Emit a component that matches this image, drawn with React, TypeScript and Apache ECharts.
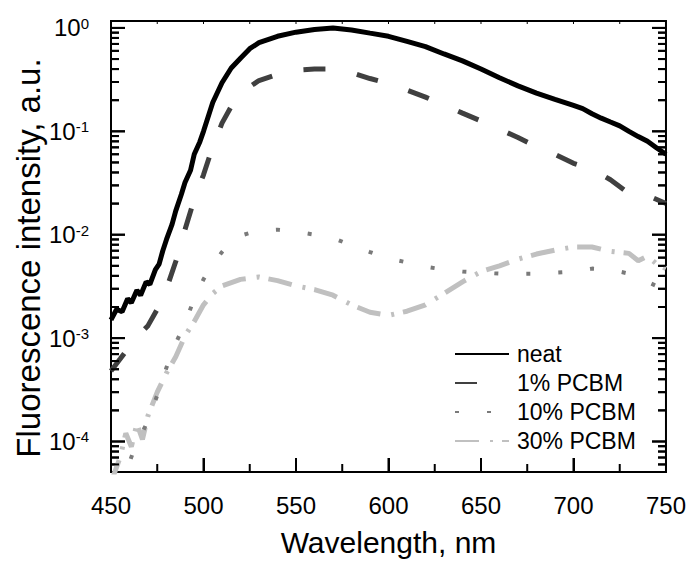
import { useEffect, useRef } from "react";
import * as echarts from "echarts";

// ---- data (wavelength in nm, intensity in a.u.) ----
const seriesNames = ["neat", "1% PCBM", "10% PCBM", "30% PCBM"];

const neatWavelength = [450, 453, 456, 459, 461, 464, 466, 469, 471, 474, 476, 478, 480, 483, 485, 488, 490, 493, 495, 498, 500, 505, 510, 515, 520, 525, 530, 540, 550, 560, 570, 580, 590, 600, 610, 620, 630, 640, 650, 660, 670, 680, 690, 700, 705, 710, 715, 720, 725, 730, 735, 740, 745, 750];
const neatIntensity = [1.5e-3, 1.9e-3, 1.8e-3, 2.4e-3, 2.2e-3, 2.9e-3, 2.6e-3, 3.5e-3, 3.3e-3, 4.6e-3, 5.2e-3, 7.0e-3, 9.0e-3, 1.26e-2, 1.7e-2, 2.45e-2, 3.2e-2, 4.2e-2, 6.0e-2, 7.9e-2, 0.1, 0.19, 0.295, 0.41, 0.51, 0.63, 0.72, 0.83, 0.91, 0.965, 1.0, 0.955, 0.89, 0.83, 0.74, 0.66, 0.56, 0.48, 0.4, 0.33, 0.275, 0.234, 0.204, 0.178, 0.166, 0.148, 0.134, 0.123, 0.113, 0.1, 0.089, 0.08, 0.069, 0.06];

const pcbm1Wavelength = [450, 455, 460, 465, 470, 475, 480, 485, 490, 495, 500, 505, 510, 515, 520, 525, 530, 540, 550, 560, 570, 580, 590, 600, 610, 620, 630, 640, 650, 660, 670, 680, 690, 700, 710, 720, 730, 740, 750];
const pcbm1Intensity = [4.8e-4, 6.3e-4, 8.3e-4, 1.07e-3, 1.32e-3, 1.9e-3, 3.0e-3, 5.5e-3, 1.12e-2, 2.2e-2, 3.8e-2, 7.1e-2, 0.12, 0.174, 0.224, 0.27, 0.31, 0.355, 0.39, 0.4, 0.4, 0.37, 0.324, 0.29, 0.25, 0.214, 0.18, 0.15, 0.126, 0.105, 0.087, 0.071, 0.06, 0.049, 0.043, 0.034, 0.025, 0.024, 0.02];

const pcbm10Wavelength = [450, 455, 460, 463, 466, 470, 475, 480, 485, 490, 495, 500, 505, 510, 515, 520, 530, 540, 550, 560, 570, 580, 590, 600, 610, 620, 630, 640, 650, 660, 670, 680, 690, 700, 710, 720, 730, 740, 750];
const pcbm10Intensity = [4.0e-5, 5.6e-5, 6.3e-5, 8.9e-5, 1.12e-4, 1.6e-4, 2.8e-4, 5.2e-4, 8.9e-4, 1.4e-3, 2.4e-3, 3.7e-3, 5.2e-3, 6.8e-3, 8.5e-3, 9.8e-3, 1.1e-2, 1.12e-2, 1.07e-2, 1.0e-2, 9.3e-3, 7.9e-3, 6.8e-3, 5.9e-3, 5.4e-3, 4.9e-3, 4.6e-3, 4.4e-3, 4.3e-3, 4.2e-3, 4.2e-3, 4.2e-3, 4.3e-3, 4.4e-3, 4.7e-3, 4.6e-3, 4.2e-3, 3.5e-3, 2.9e-3];

const pcbm30Wavelength = [450, 455, 458, 461, 464, 467, 470, 475, 480, 485, 490, 495, 500, 505, 510, 520, 530, 540, 550, 560, 570, 580, 590, 600, 610, 620, 630, 640, 650, 660, 670, 680, 690, 700, 710, 720, 730, 735, 740, 745, 750];
const pcbm30Intensity = [4.0e-5, 7.1e-5, 1.2e-4, 8.9e-5, 1.48e-4, 1.05e-4, 1.78e-4, 3.0e-4, 4.6e-4, 6.6e-4, 1.05e-3, 1.45e-3, 2.1e-3, 2.7e-3, 3.2e-3, 3.7e-3, 3.9e-3, 3.6e-3, 3.2e-3, 2.95e-3, 2.6e-3, 2.1e-3, 1.78e-3, 1.66e-3, 1.82e-3, 2.1e-3, 2.7e-3, 3.5e-3, 4.4e-3, 5.0e-3, 5.8e-3, 6.5e-3, 7.1e-3, 7.6e-3, 7.6e-3, 6.9e-3, 6.6e-3, 5.6e-3, 6.2e-3, 5.2e-3, 4.7e-3];

// axis ticks
const xMajorTicks = [450, 500, 550, 600, 650, 700, 750];
const xMinorTicks = [475, 525, 575, 625, 675, 725];
const yDecades = [-4, -3, -2, -1, 0]; // exponents of 10
const yMinorFactors = [2, 3, 4, 5, 6, 7, 8, 9];
const xMin = 450;
const xMax = 750;
const yAxisMin = -4.295; // log10 of lower bound
const yAxisMax = 0.067; // log10 of upper bound

const FONT = "'Liberation Sans', Arial, Helvetica, sans-serif";
const MAJOR_LEN = 14;
const MINOR_LEN = 8;
const TOP_LEN = 3;

function pairs(xs: number[], ys: number[]) {
  return xs.map((x, i) => [x, Math.log10(ys[i])]);
}

function minorLogTicks(): number[] {
  const out: number[] = [];
  for (let d = -5; d <= 0; d++) {
    for (const k of yMinorFactors) {
      const v = d + Math.log10(k);
      if (v > yAxisMin && v < yAxisMax) out.push(v);
    }
  }
  return out;
}

export default function App() {
  const ref = useRef<HTMLDivElement>(null);

  useEffect(() => {
    if (!ref.current) return;
    const chart = echarts.init(ref.current, undefined, { renderer: "svg" });
    const minor = minorLogTicks();

    // tick marks as small rectangles positioned at axis values
    const yTick = (x: number, v: number, len: number, dir: number) => ({
      value: [x, v],
      symbolSize: [len, 2],
      symbolOffset: [(dir * len) / 2, 0],
    });
    const xTick = (v: number, y: number, len: number, w: number, dir: number) => ({
      value: [v, y],
      symbolSize: [w, len],
      symbolOffset: [0, (dir * len) / 2],
    });
    const tickMarks = [
      ...yDecades.map((v) => yTick(xMin, v, MAJOR_LEN, 1)),
      ...minor.map((v) => yTick(xMin, v, MINOR_LEN, 1)),
      ...yDecades.map((v) => yTick(xMax, v, MAJOR_LEN, -1)),
      ...minor.map((v) => yTick(xMax, v, MINOR_LEN, -1)),
      ...xMajorTicks.map((v) => xTick(v, yAxisMin, MAJOR_LEN, 2, -1)),
      ...xMinorTicks.map((v) => xTick(v, yAxisMin, MINOR_LEN, 2, -1)),
      ...[...xMajorTicks, ...xMinorTicks].map((v) => xTick(v, yAxisMax, TOP_LEN, 1, 1)),
    ];

    const yTickData = [
      ...yDecades.map((v) => [xMin, v, MAJOR_LEN]),
      ...minor.map((v) => [xMin, v, MINOR_LEN]),
    ];

    const option: any = {
      animation: false,
      backgroundColor: "#fff",
      grid: { left: 111, right: 22, top: 21, bottom: 83, show: true, borderColor: "#000", borderWidth: 2, backgroundColor: "transparent" },
      legend: {
        orient: "vertical",
        left: 449,
        top: 337,
        data: seriesNames,
        itemWidth: 54,
        itemHeight: 14,
        itemGap: 5,
        itemStyle: { opacity: 0 },
        textStyle: { fontFamily: FONT, fontSize: 23, color: "#000", lineHeight: 24, padding: [0, 0, 0, 3] },
      },
      xAxis: {
        type: "value",
        min: xMin,
        max: xMax,
        interval: 50,
        axisLine: { show: true, onZero: false, lineStyle: { color: "#000", width: 2 } },
        axisTick: { show: true, inside: true, length: MAJOR_LEN, lineStyle: { color: "#000", width: 2 } },
        axisLabel: { fontFamily: FONT, fontSize: 24, color: "#000", margin: 21 },
        splitLine: { show: false },
        name: "Wavelength, nm",
        nameLocation: "middle",
        nameGap: 55,
        nameTextStyle: { fontFamily: FONT, fontSize: 30, color: "#000" },
      },
      yAxis: {
        type: "value",
        min: yAxisMin,
        max: yAxisMax,
        axisLine: { show: true, onZero: false, lineStyle: { color: "#000", width: 2 } },
        axisTick: { show: false },
        splitLine: { show: false },
        axisLabel: {
          margin: 22,
          color: "#000",
          showMinLabel: false,
          showMaxLabel: false,
          formatter: (v: number) =>
            Math.abs(v - Math.round(v)) < 1e-6 ? `{b|10}{s|${Math.round(v)}}` : "",
          rich: {
            b: { fontFamily: FONT, fontSize: 24, color: "#000" },
            s: { fontFamily: FONT, fontSize: 15, color: "#000", verticalAlign: "top", padding: [0, 0, 8, 0] },
          },
        },
      },
      graphic: [
        {
          type: "text",
          x: 28,
          y: 258,
          rotation: Math.PI / 2,
          style: {
            text: "Fluorescence intensity, a.u.",
            font: `33px ${FONT}`,
            fill: "#000",
            textAlign: "center",
            textVerticalAlign: "middle",
          },
        },
      ],
      series: [
        {
          name: seriesNames[3],
          type: "line",
          data: pairs(pcbm30Wavelength, pcbm30Intensity),
          showSymbol: false,
          lineStyle: { color: "#c0c0c0", width: 5, type: [24, 11, 3, 9], cap: "butt" },
          itemStyle: { color: "#c0c0c0" },
        },
        {
          name: seriesNames[2],
          type: "line",
          data: pairs(pcbm10Wavelength, pcbm10Intensity),
          showSymbol: false,
          lineStyle: { color: "#7a7a7a", width: 4, type: [4, 28], cap: "butt" },
          itemStyle: { color: "#7a7a7a" },
        },
        {
          name: seriesNames[1],
          type: "line",
          data: pairs(pcbm1Wavelength, pcbm1Intensity),
          showSymbol: false,
          lineStyle: { color: "#404040", width: 5, type: [22, 32], cap: "butt" },
          itemStyle: { color: "#404040" },
        },
        {
          name: seriesNames[0],
          type: "line",
          data: pairs(neatWavelength, neatIntensity),
          showSymbol: false,
          lineStyle: { color: "#000", width: 5 },
          itemStyle: { color: "#000" },
        },
        {
          name: "tickMarks",
          type: "scatter",
          symbol: "rect",
          clip: false,
          silent: true,
          z: 5,
          itemStyle: { color: "#000", opacity: 1 },
          data: tickMarks,
        },
        {
          name: "yTicks",
          type: "custom",
          data: yTickData,
          renderItem: (_params: any, api: any) => {
            const len = api.value(2);
            const pl = api.coord([api.value(0), api.value(1)]);
            const pr = api.coord([xMax, api.value(1)]);
            return {
              type: "group",
              children: [
                { type: "line", shape: { x1: pl[0], y1: pl[1], x2: pl[0] + len, y2: pl[1] }, style: { stroke: "#000", lineWidth: 2 } },
                { type: "line", shape: { x1: pr[0] - len, y1: pr[1], x2: pr[0], y2: pr[1] }, style: { stroke: "#000", lineWidth: 2 } },
              ],
            };
          },
        },
      ],
    };

    chart.setOption(option);
    return () => chart.dispose();
  }, []);

  return (
    <div
      ref={ref}
      style={{ position: "fixed", left: 0, top: 0, width: 689, height: 562, background: "#fff" }}
    />
  );
}
